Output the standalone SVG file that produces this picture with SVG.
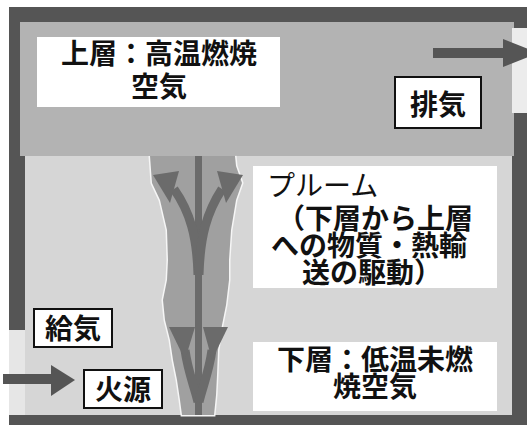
<svg xmlns="http://www.w3.org/2000/svg" width="527" height="425" viewBox="0 0 527 425">
  <style>
    .lbl { font-family: "Noto Sans CJK JP", "Noto Sans", sans-serif; font-size: 28px; font-weight: 700; fill: #111; text-anchor: middle; }
    .thin { font-weight: 400; text-anchor: start; }
    .panel { fill: #ffffff; }
    .tag { fill: #ffffff; stroke: #111; stroke-width: 2; }
    .flow { fill: none; stroke: #6b6b6b; stroke-width: 9; stroke-linecap: butt; }
    .head { fill: #6b6b6b; }
    .duct { fill: #555555; }
  </style>
  <defs>
    <filter id="soft" x="-20%" y="-5%" width="140%" height="110%">
      <feGaussianBlur stdDeviation="0.7"/>
    </filter>
  </defs>

  <!-- background -->
  <rect x="0" y="0" width="527" height="425" fill="#ffffff"/>

  <!-- room enclosure (walls) -->
  <rect x="9" y="7" width="518" height="418" fill="#555555"/>
  <!-- lower layer -->
  <rect x="25" y="155" width="487" height="260" fill="#d6d6d6"/>
  <!-- upper hot layer -->
  <rect x="20" y="22" width="494" height="134" fill="#b3b3b3"/>
  <!-- openings in the walls -->
  <rect x="512" y="28" width="15" height="85" fill="#ececec"/>
  <rect x="9" y="330" width="16" height="85" fill="#e6e6e6"/>

  <!-- plume body -->
  <g id="plume">
    <path d="M150,156 L152,183 L160,200 L167,230 L168,260 L167,280 L163,300 L165,320 L170,340 L173,360 L177,380 L180,400 L182,415 L214,415 L216,395 L217,375 L218,350 L221,330 L226,305 L229,280 L229,260 L231,230 L236,200 L242,183 L236,166 L235,156" fill="none" stroke="#f6f6f6" stroke-width="3" filter="url(#soft)"/>
    <path d="M150,156 L152,183 L160,200 L167,230 L168,260 L167,280 L163,300 L165,320 L170,340 L173,360 L177,380 L180,400 L182,415 L214,415 L216,395 L217,375 L218,350 L221,330 L226,305 L229,280 L229,260 L231,230 L236,200 L242,183 L236,166 L235,156 Z" fill="#a0a0a0"/>
  </g>

  <!-- flow arrows -->
  <g id="connectors">
    <!-- exhaust outflow -->
    <rect x="433" y="48" width="72" height="10" class="duct"/>
    <polygon points="503,39 538,53 503,67" class="duct"/>
    <!-- supply inflow -->
    <rect x="3" y="374" width="50" height="10" class="duct"/>
    <polygon points="51,365 75,380 51,396" class="duct"/>
    <!-- plume axis -->
    <rect x="195" y="156" width="7" height="259" fill="#6b6b6b"/>
    <!-- rising branches -->
    <path d="M198,275 C197,236 190,212 174,189" class="flow"/>
    <polygon points="153,175 179,171 170,203" class="head"/>
    <path d="M199,275 C200,236 207,212 222,189" class="flow"/>
    <polygon points="243,175 217,171 226,203" class="head"/>
    <!-- entrainment at the base -->
    <path d="M185,350 C188,372 194,385 198,402" class="flow"/>
    <polygon points="169,327 195,327 185,360" class="head"/>
    <path d="M212,350 C209,372 203,385 199,402" class="flow"/>
    <polygon points="203,327 228,327 212,360" class="head"/>
  </g>

  <g id="upper-layer">
    <rect x="37" y="37" width="243" height="70" class="panel"/>
    <text x="159" y="64" class="lbl">上層：高温燃焼</text>
    <text x="159" y="97" class="lbl">空気</text>
  </g>

  <g id="exhaust">
    <rect x="395" y="77" width="86" height="51" class="tag"/>
    <text x="438" y="115" class="lbl">排気</text>
  </g>

  <g id="plume-label">
    <rect x="253" y="166" width="244" height="122" class="panel"/>
    <text x="267" y="196" class="lbl thin">プルーム</text>
    <text x="375" y="229" class="lbl">（下層から上層</text>
    <text x="369" y="256" class="lbl">への物質・熱輸</text>
    <text x="372" y="283" class="lbl">送の駆動）</text>
  </g>

  <g id="supply">
    <rect x="34" y="309" width="78" height="38" class="tag"/>
    <text x="73" y="339" class="lbl">給気</text>
  </g>

  <g id="fire-source">
    <rect x="84" y="370" width="78" height="38" class="tag"/>
    <text x="123" y="400" class="lbl">火源</text>
  </g>

  <g id="lower-layer">
    <rect x="253" y="342" width="244" height="69" class="panel"/>
    <text x="375" y="370" class="lbl">下層：低温未燃</text>
    <text x="375" y="397" class="lbl">焼空気</text>
  </g>
</svg>
